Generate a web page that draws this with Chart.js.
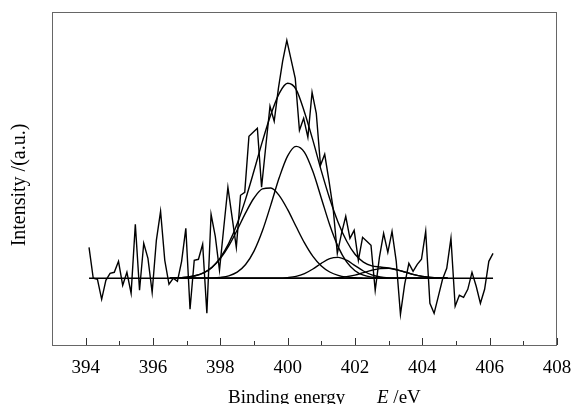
<!DOCTYPE html>
<html>
<head>
<meta charset="utf-8">
<script src="https://cdn.jsdelivr.net/npm/chart.js@4.4.1/dist/chart.umd.min.js"></script>
<style>
  html, body { margin: 0; padding: 0; background: #fff; overflow: hidden; }
  #wrap { width: 573px; height: 404px; position: relative; }
  canvas { display: block; }
</style>
</head>
<body>
<div id="wrap"><canvas id="xps"></canvas></div>
<script>
// measured N 1s spectrum (binding energy, counts above baseline)
const energy = [
  394.1, 394.225, 394.35, 394.475, 394.6, 394.725, 394.85, 394.975,
  395.1, 395.225, 395.35, 395.475, 395.6, 395.725, 395.85, 395.975,
  396.1, 396.225, 396.35, 396.475, 396.6, 396.725, 396.85, 396.975,
  397.1, 397.225, 397.35, 397.475, 397.6, 397.725, 397.85, 397.975,
  398.1, 398.225, 398.35, 398.475, 398.6, 398.725, 398.85, 398.975,
  399.1, 399.225, 399.35, 399.475, 399.6, 399.725, 399.85, 399.975,
  400.1, 400.225, 400.35, 400.475, 400.6, 400.725, 400.85, 400.975,
  401.1, 401.225, 401.35, 401.475, 401.6, 401.725, 401.85, 401.975,
  402.1, 402.225, 402.35, 402.475, 402.6, 402.725, 402.85, 402.975,
  403.1, 403.225, 403.35, 403.475, 403.6, 403.725, 403.85, 403.975,
  404.1, 404.225, 404.35, 404.475, 404.6, 404.725, 404.85, 404.975,
  405.1, 405.225, 405.35, 405.475, 405.6, 405.725, 405.85, 405.975,
  406.1
];
const counts = [
  31, 0, -1, -21, -2, 5, 6, 17,
  -7, 6, -15, 54, -12, 35, 20, -14,
  38, 67, 18, -6, 0, -3, 17, 50,
  -31, 18, 19, 34, -35, 64, 42, 8,
  50, 91, 61, 31, 83, 86, 142, 146,
  150, 91, 132, 172, 157, 190, 217, 238,
  219, 200, 148, 160, 141, 186, 165, 113,
  124, 98, 70, 25, 45, 62, 40, 48,
  18, 41, 37, 33, -12, 21, 45, 26,
  47, 17, -36, -6, 15, 7, 14, 19,
  47, -25, -35, -18, -1, 10, 40, -28,
  -17, -19, -11, 6, -8, -25, -11, 17,
  25
];

// fitted curves, read every 0.25 eV
const fitEnergy = [
  396.5, 396.75, 397, 397.25, 397.5, 397.75, 398, 398.25, 398.5, 398.75,
  399, 399.25, 399.5, 399.75, 400, 400.25, 400.5, 400.75, 401, 401.25,
  401.5, 401.75, 402, 402.25, 402.5, 402.75, 403, 403.25, 403.5, 403.75,
  404, 404.25, 404.5, 404.75
];
const envelope = [
  0.1, 0.4, 1.0, 2.5, 5.4, 10.9, 20.6, 34.9, 54.5, 79.2,
  107.5, 136.9, 163.7, 185, 195, 189, 166.1, 137.9, 107.4, 79.5,
  55.9, 37.3, 24.0, 16.2, 12.5, 11.3, 10.3, 8.5, 6.1, 3.7,
  1.9, 0.8, 0.3, 0.1
];
const peak1 = [
  0.1, 0.4, 1.0, 2.5, 5.4, 10.9, 19.7, 32.4, 48.3, 65.4,
  80.3, 89.4, 90.3, 82.7, 68.7, 51.8, 35.4, 21.9, 12.3, 6.3,
  2.9, 1.2, 0.5, 0.2, 0, 0, 0, 0, 0, 0,
  0, 0, 0, 0
];
const peak2 = [
  0, 0, 0, 0, 0, 0, 0.9, 2.5, 6.2, 13.8,
  27.2, 47.5, 73.4, 100.7, 122.4, 131.9, 126.0, 106.7, 80.1, 53.3,
  31.4, 16.4, 7.6, 3.1, 1.1, 0.3, 0, 0, 0, 0,
  0, 0, 0, 0
];
const peak3 = [
  0, 0, 0, 0, 0, 0, 0, 0, 0, 0,
  0, 0, 0, 0, 0.65, 1.9, 4.7, 9.3, 15.0, 19.7,
  20.9, 18.1, 12.7, 7.3, 3.4, 1.3, 0.4, 0.1, 0, 0,
  0, 0, 0, 0
];
const peak4 = [
  0, 0, 0, 0, 0, 0, 0, 0, 0, 0,
  0, 0, 0, 0, 0, 0, 0, 0, 0, 0.2,
  0.7, 1.6, 3.2, 5.6, 8.0, 9.7, 9.9, 8.4, 6.1, 3.7,
  1.9, 0.8, 0.3, 0.1
];
const baselineEnergy = [394.1, 406.1];
const baselineLevel = [0, 0];

const tickValues = [394, 396, 398, 400, 402, 404, 406, 408];
const minorTickValues = [395, 397, 399, 401, 403, 405, 407];

const serif = "'Liberation Serif', 'Times New Roman', serif";

function pairs(xs, ys) {
  return xs.map((x, i) => ({ x: x, y: ys[i] }));
}

function lineSet(data, smooth) {
  return {
    data: data,
    borderColor: '#000',
    borderWidth: 1.4,
    pointRadius: 0,
    fill: false,
    cubicInterpolationMode: smooth ? 'monotone' : 'default',
    tension: 0
  };
}

const decorations = {
  id: 'decorations',
  afterDraw(chart) {
    const ctx = chart.ctx;
    const area = chart.chartArea;
    const xs = chart.scales.x;
    ctx.save();
    // frame
    ctx.strokeStyle = '#666';
    ctx.lineWidth = 1;
    ctx.strokeRect(area.left + 0.5, area.top + 0.5, area.right - area.left - 1, area.bottom - area.top);
    // inward ticks
    ctx.strokeStyle = '#333';
    ctx.beginPath();
    tickValues.forEach(v => {
      const px = Math.round(xs.getPixelForValue(v)) + 0.5;
      ctx.moveTo(px, area.bottom);
      ctx.lineTo(px, area.bottom - 7);
    });
    minorTickValues.forEach(v => {
      const px = Math.round(xs.getPixelForValue(v)) + 0.5;
      ctx.moveTo(px, area.bottom);
      ctx.lineTo(px, area.bottom - 4);
    });
    ctx.stroke();

    // axis titles
    ctx.fillStyle = '#000';
    ctx.textBaseline = 'alphabetic';
    ctx.textAlign = 'left';
    ctx.font = '19px ' + serif;
    ctx.fillText('Binding energy', 228, 403);
    ctx.font = 'italic 19px ' + serif;
    ctx.fillText('E', 377, 403);
    const ew = ctx.measureText('E').width;
    ctx.font = '19px ' + serif;
    ctx.fillText(' /eV', 377 + ew, 403);

    ctx.translate(20, 185);
    ctx.rotate(-Math.PI / 2);
    ctx.textAlign = 'center';
    ctx.textBaseline = 'middle';
    ctx.font = '20px ' + serif;
    ctx.fillText('Intensity /(a.u.)', 0, 0);
    ctx.restore();
  }
};

new Chart(document.getElementById('xps'), {
  type: 'line',
  data: {
    datasets: [
      lineSet(pairs(baselineEnergy, baselineLevel), false),
      lineSet(pairs(fitEnergy, peak4), true),
      lineSet(pairs(fitEnergy, peak3), true),
      lineSet(pairs(fitEnergy, peak2), true),
      lineSet(pairs(fitEnergy, peak1), true),
      lineSet(pairs(fitEnergy, envelope), true),
      lineSet(pairs(energy, counts), false)
    ]
  },
  options: {
    responsive: true,
    maintainAspectRatio: false,
    animation: false,
    devicePixelRatio: 1,
    layout: { padding: { top: 12, right: 16, left: 0, bottom: 0 } },
    plugins: {
      legend: { display: false },
      tooltip: { enabled: false }
    },
    scales: {
      x: {
        type: 'linear',
        min: 393,
        max: 408,
        grid: { display: false, drawTicks: false },
        border: { display: false },
        afterBuildTicks(scale) {
          scale.ticks = tickValues.map(v => ({ value: v }));
        },
        afterFit(scale) {
          scale.height = 59;
          scale.paddingLeft = 0;
          scale.paddingRight = 0;
        },
        ticks: {
          color: '#000',
          padding: 12,
          maxRotation: 0,
          autoSkip: false,
          font: { family: serif, size: 19 }
        }
      },
      y: {
        min: -66.7,
        max: 266.3,
        grid: { display: false, drawTicks: false },
        border: { display: false },
        ticks: { display: false },
        afterFit(scale) { scale.width = 52; }
      }
    }
  },
  plugins: [decorations]
});
</script>
</body>
</html>
